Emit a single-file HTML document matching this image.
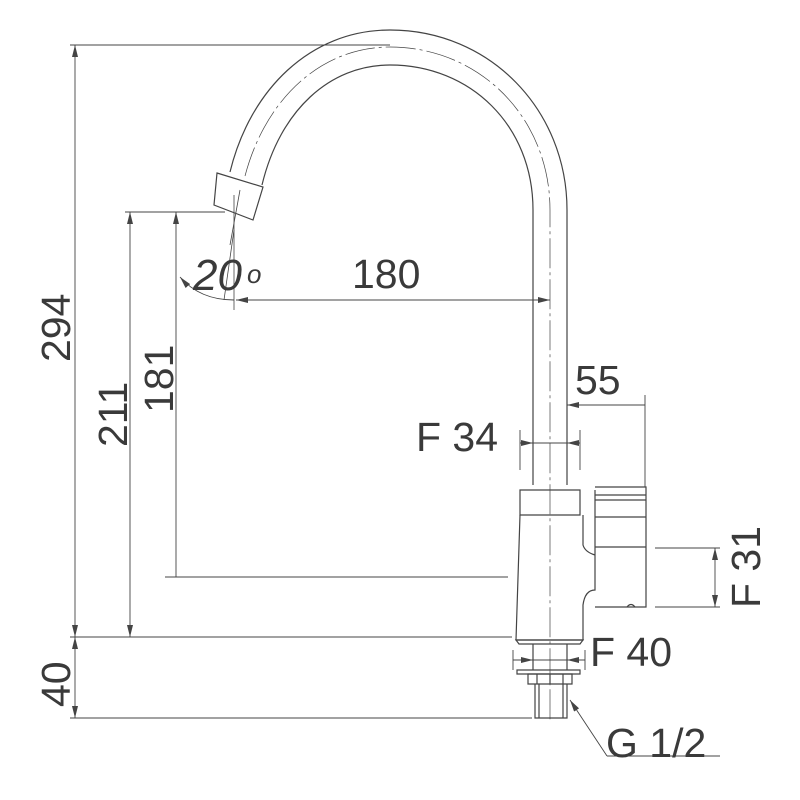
<!DOCTYPE html>
<html><head><style>body{margin:0;background:#fff}svg{display:block}text{font-family:"Liberation Sans",sans-serif;fill:#3a3a3a}</style></head><body>
<svg width="800" height="800" viewBox="0 0 800 800">
<defs><marker id="a" markerWidth="12" markerHeight="6" refX="12" refY="3" orient="auto-start-reverse" markerUnits="userSpaceOnUse"><path d="M0,0 L12,3 L0,6z" fill="#444"/></marker></defs>
<g fill="none" stroke="#444" stroke-width="1.2">
<path d="M230 172 C250 90,310 30,390 30 C490 30,567 110,567 210 L567 485"/>
<path d="M262 185 C280 110,330 65,390 65 C470 65,533 125,533 210 L533 485"/>
<path d="M245 176 C265 100,320 47,390 47 C480 47,550 118,550 210 L550 720" stroke-width="0.7" stroke-dasharray="30 4 3 4"/>
<path d="M217 173 L263 187 L253 220 L214 205 Z"/>
<path d="M240 190 L230 245 M234 230 L224 300" stroke-width="0.8"/>
<line x1="234" y1="195" x2="234" y2="310" stroke-width="0.8"/>
<path d="M520 490 L580 490 L580 515 L520 515 Z"/>
<path d="M520 515 L516 640 L583 640 L583 605 Q585 590 595 590 L595 490 M583 515 L583 545 Q585 552 595 555"/>
<path d="M516 640 L583 640 L580 644 L519 644 Z"/>
<path d="M595 487 L646 487 L646 607 L595 607 M595 495 L646 495 M595 500 L646 500 M595 517 L646 517 M595 547 L646 547"/>
<path d="M627 607 Q631 602 635 607" />
<path d="M533 644 L533 670 M567 644 L567 670 M517 670 L580 670 L580 674 L517 674 Z"/>
<path d="M528 674 L572 674 L572 684 L528 684 Z M537 674 L537 684 M550 674 L550 684 M563 674 L563 684"/>
<path d="M535 684 L535 718 L567 718 L567 684 M539 684 L539 718 M563 684 L563 718"/>
<g stroke-width="0.9">
<line x1="70" y1="45" x2="390" y2="45"/>
<line x1="75" y1="45" x2="75" y2="637" marker-start="url(#a)" marker-end="url(#a)"/>
<line x1="70" y1="637" x2="512" y2="637"/>
<line x1="75" y1="637" x2="75" y2="718" marker-start="url(#a)" marker-end="url(#a)"/>
<line x1="70" y1="718" x2="532" y2="718"/>
<line x1="125" y1="212" x2="225" y2="212"/>
<line x1="130" y1="212" x2="130" y2="637" marker-start="url(#a)" marker-end="url(#a)"/>
<line x1="176" y1="212" x2="176" y2="577" marker-start="url(#a)"/>
<line x1="165" y1="577" x2="508" y2="577"/>
<line x1="236" y1="300" x2="550" y2="300" marker-start="url(#a)" marker-end="url(#a)"/>
<path d="M180 277 Q200 300 234 300" marker-start="url(#a)"/>
<line x1="567" y1="405" x2="645" y2="405" marker-start="url(#a)"/>
<line x1="645" y1="395" x2="645" y2="487"/>
<line x1="520" y1="430" x2="520" y2="470"/><line x1="580" y1="430" x2="580" y2="470"/>
<line x1="520" y1="443" x2="580" y2="443"/>
<line x1="520" y1="443" x2="533" y2="443" marker-end="url(#a)"/><line x1="580" y1="443" x2="567" y2="443" marker-end="url(#a)"/>
<line x1="655" y1="548" x2="720" y2="548"/><line x1="655" y1="607" x2="720" y2="607"/>
<line x1="715" y1="548" x2="715" y2="607" marker-start="url(#a)" marker-end="url(#a)"/>
<line x1="513" y1="650" x2="513" y2="670"/><line x1="585" y1="650" x2="585" y2="670"/>
<line x1="513" y1="660" x2="585" y2="660"/>
<line x1="513" y1="660" x2="533" y2="660" marker-end="url(#a)"/><line x1="585" y1="660" x2="567" y2="660" marker-end="url(#a)"/>
<line x1="607" y1="756" x2="570" y2="700" marker-end="url(#a)"/>
<line x1="607" y1="756" x2="720" y2="756"/>
</g>
</g>
<g font-size="41">
<text transform="translate(70,362) rotate(-90)">294</text>
<text transform="translate(127,447) rotate(-90)">211</text>
<text transform="translate(173,413) rotate(-90)">181</text>
<text transform="translate(70,707) rotate(-90)">40</text>
<text x="352" y="288">180</text>
<text x="575" y="394">55</text>
<text x="416" y="451">F 34</text>
<text x="590" y="666">F 40</text>
<text x="606" y="757">G 1/2</text>
<text transform="translate(760,608) rotate(-90)">F 31</text>
<text x="193" y="290" font-size="44" font-style="italic" fill="#111">20</text>
<text x="247" y="283" font-size="26" font-style="italic" fill="#111">o</text>
</g>
</svg>
</body></html>
